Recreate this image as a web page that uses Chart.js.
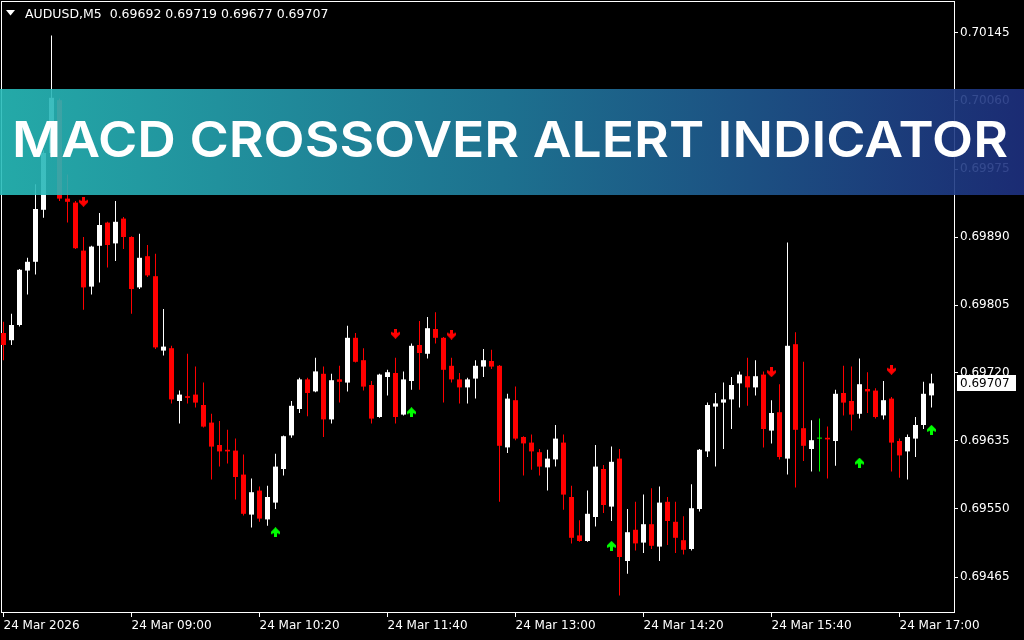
<!DOCTYPE html>
<html>
<head>
<meta charset="utf-8">
<script src="https://cdn.jsdelivr.net/npm/chart.js@4.4.1/dist/chart.umd.min.js"></script>
<style>
  html, body { margin: 0; padding: 0; background: #000; }
  #wrap { width: 1024px; height: 640px; }
</style>
</head>
<body>
<div id="wrap"><canvas id="chart" width="1024" height="640"></canvas></div>
<script>
// AUDUSD M5, 24 Mar 2026 07:40 .. 17:20 (one bar every 5 minutes)
const symbol = "AUDUSD,M5";

const opens = [
  0.69770, 0.69761, 0.69780, 0.69848, 0.69859, 0.69924, 0.69995, 0.70061, 0.69938, 0.69933,
  0.69873, 0.69828, 0.69879, 0.69908, 0.69882, 0.69913, 0.69890, 0.69827, 0.69866, 0.69841,
  0.69748, 0.69751, 0.69685, 0.69691, 0.69693, 0.69680, 0.69658, 0.69630, 0.69624, 0.69623,
  0.69593, 0.69543, 0.69573, 0.69537, 0.69558, 0.69600, 0.69642, 0.69675, 0.69712, 0.69697,
  0.69719, 0.69662, 0.69712, 0.69708, 0.69764, 0.69736, 0.69705, 0.69665, 0.69715, 0.69720,
  0.69668, 0.69710, 0.69755, 0.69744, 0.69775, 0.69764, 0.69729, 0.69712, 0.69702, 0.69713,
  0.69728, 0.69735, 0.69729, 0.69627, 0.69686, 0.69640, 0.69633, 0.69621, 0.69602, 0.69612,
  0.69633, 0.69565, 0.69517, 0.69510, 0.69540, 0.69600, 0.69553, 0.69613, 0.69485, 0.69524,
  0.69508, 0.69531, 0.69503, 0.69559, 0.69534, 0.69511, 0.69500, 0.69550, 0.69622, 0.69678,
  0.69683, 0.69687, 0.69707, 0.69716, 0.69702, 0.69718, 0.69648, 0.69671, 0.69613, 0.69756,
  0.69651, 0.69625, 0.69638, 0.69639, 0.69635, 0.69695, 0.69685, 0.69669, 0.69700, 0.69698,
  0.69667, 0.69688, 0.69635, 0.69622, 0.69638, 0.69655, 0.69692
];
const highs = [
  0.69784, 0.69794, 0.69850, 0.69864, 0.69956, 0.69998, 0.70142, 0.70063, 0.69968, 0.69935,
  0.69890, 0.69879, 0.69920, 0.69909, 0.69935, 0.69915, 0.69891, 0.69894, 0.69880, 0.69869,
  0.69800, 0.69754, 0.69698, 0.69744, 0.69728, 0.69708, 0.69669, 0.69660, 0.69649, 0.69638,
  0.69618, 0.69588, 0.69578, 0.69579, 0.69619, 0.69642, 0.69685, 0.69714, 0.69714, 0.69739,
  0.69728, 0.69719, 0.69729, 0.69779, 0.69770, 0.69751, 0.69710, 0.69719, 0.69724, 0.69739,
  0.69722, 0.69757, 0.69785, 0.69790, 0.69796, 0.69765, 0.69739, 0.69720, 0.69714, 0.69736,
  0.69750, 0.69749, 0.69730, 0.69694, 0.69703, 0.69641, 0.69643, 0.69625, 0.69624, 0.69655,
  0.69643, 0.69579, 0.69536, 0.69573, 0.69630, 0.69605, 0.69628, 0.69625, 0.69550, 0.69559,
  0.69568, 0.69576, 0.69578, 0.69565, 0.69559, 0.69541, 0.69581, 0.69625, 0.69683, 0.69695,
  0.69708, 0.69715, 0.69722, 0.69739, 0.69736, 0.69722, 0.69686, 0.69706, 0.69883, 0.69771,
  0.69734, 0.69661, 0.69663, 0.69653, 0.69699, 0.69729, 0.69728, 0.69738, 0.69721, 0.69701,
  0.69710, 0.69690, 0.69638, 0.69643, 0.69665, 0.69709, 0.69719
];
const lows = [
  0.69736, 0.69755, 0.69778, 0.69818, 0.69843, 0.69914, 0.69989, 0.69935, 0.69908, 0.69875,
  0.69799, 0.69818, 0.69833, 0.69852, 0.69860, 0.69875, 0.69794, 0.69825, 0.69840, 0.69750,
  0.69742, 0.69682, 0.69657, 0.69682, 0.69677, 0.69652, 0.69587, 0.69603, 0.69607, 0.69562,
  0.69542, 0.69527, 0.69534, 0.69529, 0.69550, 0.69592, 0.69639, 0.69670, 0.69666, 0.69696,
  0.69640, 0.69657, 0.69683, 0.69697, 0.69733, 0.69698, 0.69657, 0.69664, 0.69692, 0.69657,
  0.69667, 0.69699, 0.69699, 0.69738, 0.69757, 0.69683, 0.69708, 0.69682, 0.69682, 0.69688,
  0.69715, 0.69725, 0.69559, 0.69620, 0.69636, 0.69592, 0.69599, 0.69592, 0.69573, 0.69603,
  0.69549, 0.69507, 0.69509, 0.69509, 0.69528, 0.69545, 0.69535, 0.69442, 0.69469, 0.69498,
  0.69495, 0.69500, 0.69485, 0.69505, 0.69495, 0.69493, 0.69498, 0.69547, 0.69615, 0.69603,
  0.69625, 0.69650, 0.69677, 0.69679, 0.69692, 0.69627, 0.69632, 0.69612, 0.69593, 0.69577,
  0.69610, 0.69597, 0.69597, 0.69588, 0.69604, 0.69667, 0.69648, 0.69663, 0.69670, 0.69663,
  0.69662, 0.69597, 0.69589, 0.69587, 0.69615, 0.69650, 0.69677
];
const closes = [
  0.69755, 0.69780, 0.69849, 0.69859, 0.69925, 0.69995, 0.70064, 0.69938, 0.69934, 0.69876,
  0.69827, 0.69878, 0.69905, 0.69880, 0.69909, 0.69890, 0.69825, 0.69864, 0.69842, 0.69752,
  0.69753, 0.69687, 0.69693, 0.69689, 0.69683, 0.69653, 0.69628, 0.69622, 0.69622, 0.69590,
  0.69544, 0.69571, 0.69538, 0.69565, 0.69603, 0.69641, 0.69679, 0.69712, 0.69695, 0.69722,
  0.69662, 0.69711, 0.69709, 0.69764, 0.69734, 0.69703, 0.69663, 0.69718, 0.69721, 0.69665,
  0.69712, 0.69754, 0.69745, 0.69776, 0.69764, 0.69724, 0.69712, 0.69702, 0.69712, 0.69729,
  0.69736, 0.69728, 0.69629, 0.69688, 0.69638, 0.69632, 0.69622, 0.69603, 0.69613, 0.69638,
  0.69568, 0.69514, 0.69510, 0.69544, 0.69603, 0.69555, 0.69609, 0.69490, 0.69521, 0.69507,
  0.69531, 0.69504, 0.69558, 0.69535, 0.69514, 0.69499, 0.69551, 0.69624, 0.69680, 0.69682,
  0.69687, 0.69705, 0.69718, 0.69702, 0.69716, 0.69650, 0.69670, 0.69615, 0.69754, 0.69649,
  0.69629, 0.69636, 0.69638, 0.69637, 0.69694, 0.69683, 0.69668, 0.69706, 0.69697, 0.69665,
  0.69686, 0.69633, 0.69617, 0.69640, 0.69655, 0.69694, 0.69707
];

// time axis: bar index -> label
const timeTickBars = [0, 16, 32, 48, 64, 80, 96, 112];
const timeTickLabels = ["24 Mar 2026", "24 Mar 09:00", "24 Mar 10:20", "24 Mar 11:40",
                        "24 Mar 13:00", "24 Mar 14:20", "24 Mar 15:40", "24 Mar 17:00"];
const priceTicks = [0.70145, 0.70060, 0.69975, 0.69890, 0.69805, 0.69720, 0.69635, 0.69550, 0.69465];

// MACD crossover signals (bar index, arrow level)
const sellBars = [10, 49, 56, 96, 111];
const sellLevels = [0.69934, 0.69769, 0.69768, 0.69721, 0.69724];
const buyBars = [34, 51, 76, 107, 116];
const buyLevels = [0.69521, 0.69671, 0.69504, 0.69608, 0.69649];

const bannerText = "MACD CROSSOVER ALERT INDICATOR";

const BULL = "#ffffff", BEAR = "#ff0000", DOJI = "#00ff00";
const candleColors = opens.map((o, i) => closes[i] > o ? BULL : (closes[i] < o ? BEAR : DOJI));

function makeArrow(color, up) {
  const c = document.createElement("canvas");
  c.width = 9; c.height = 10;
  const g = c.getContext("2d");
  g.fillStyle = color;
  const pts = [[3, 0], [6, 0], [6, 4], [9, 3], [9, 5.5], [4.5, 10], [0, 5.5], [0, 3], [3, 4]];
  g.beginPath();
  pts.forEach(([x, y], j) => {
    const yy = up ? 10 - y : y;
    if (j === 0) g.moveTo(x, yy); else g.lineTo(x, yy);
  });
  g.closePath();
  g.fill();
  return c;
}
const arrowDown = makeArrow("#ff0000", false);
const arrowUp = makeArrow("#00ff00", true);

const FONT = "DejaVu Sans";

// no automatic label overflow padding: the plot frame sits at the canvas edge like MT4
function noPad(s) {
  s.paddingLeft = 0; s.paddingRight = 0; s.paddingTop = 0; s.paddingBottom = 0;
}

const overlayPlugin = {
  id: "mt4overlay",
  beforeDatasetsDraw(chart) {
    const { ctx, chartArea: a } = chart;
    ctx.save();
    ctx.strokeStyle = "#ffffff";
    ctx.lineWidth = 1;
    ctx.strokeRect(a.left + 0.5, a.top + 0.5, a.right - a.left, a.bottom - a.top);
    ctx.restore();
  },
  afterDraw(chart) {
    const { ctx } = chart;
    const y = chart.scales.y;
    const last = closes.length - 1;
    ctx.save();

    // header: symbol and last bar OHLC
    ctx.fillStyle = "#ffffff";
    ctx.beginPath();
    ctx.moveTo(6, 10); ctx.lineTo(15, 10); ctx.lineTo(10.5, 15.5); ctx.closePath();
    ctx.fill();
    ctx.font = "12.5px '" + FONT + "'";
    ctx.textBaseline = "middle";
    ctx.textAlign = "left";
    const head = symbol + "  " + [opens[last], highs[last], lows[last], closes[last]].map(v => v.toFixed(5)).join(" ");
    ctx.fillText(head, 25, 15);

    // current price box
    ctx.font = "12px '" + FONT + "'";
    const py = Math.round(y.getPixelForValue(closes[last]));
    ctx.fillStyle = "#ffffff";
    ctx.fillRect(957, py - 8, 59, 16);
    ctx.fillStyle = "#000000";
    ctx.fillText(closes[last].toFixed(5), 960, py + 0.5);

    // banner
    const top = 89, h = 106;
    const grad = ctx.createLinearGradient(0, 0, chart.width, 0);
    grad.addColorStop(0, "rgba(40,188,186,0.9)");
    grad.addColorStop(0.5, "rgba(32,124,158,0.9)");
    grad.addColorStop(1, "rgba(30,48,128,0.9)");
    ctx.fillStyle = grad;
    ctx.fillRect(0, top, chart.width, h);

    ctx.font = "600 50px Inter, 'Open Sans', sans-serif";
    ctx.textBaseline = "alphabetic";
    const w = ctx.measureText(bannerText).width;
    const target = 996;
    ctx.translate(12, 157);
    ctx.scale(target / w, 1);
    ctx.fillStyle = "#ffffff";
    ctx.fillText(bannerText, 0, 0);
    ctx.restore();
  }
};

const ctx = document.getElementById("chart").getContext("2d");
new Chart(ctx, {
  type: "bar",
  data: {
    datasets: [
      {
        label: "wicks",
        data: lows.map((l, i) => ({ x: i, y: [l, highs[i]] })),
        backgroundColor: candleColors,
        barThickness: 1,
        grouped: false,
        inflateAmount: 0,
        order: 3
      },
      {
        label: "bodies",
        data: opens.map((o, i) => ({ x: i, y: [o, closes[i]] })),
        backgroundColor: candleColors,
        barThickness: 5,
        minBarLength: 1,
        grouped: false,
        inflateAmount: 0,
        order: 2
      },
      {
        type: "line",
        label: "sell",
        data: sellBars.map((b, i) => ({ x: b, y: sellLevels[i] })),
        showLine: false,
        pointStyle: arrowDown,
        pointRadius: 5,
        order: 1
      },
      {
        type: "line",
        label: "buy",
        data: buyBars.map((b, i) => ({ x: b, y: buyLevels[i] })),
        showLine: false,
        pointStyle: arrowUp,
        pointRadius: 5,
        order: 1
      }
    ]
  },
  options: {
    responsive: false,
    devicePixelRatio: 1,
    animation: false,
    events: [],
    layout: { autoPadding: false, padding: { left: 1, top: 1, right: 0, bottom: 0 } },
    plugins: { legend: { display: false }, tooltip: { enabled: false } },
    scales: {
      x: {
        type: "linear",
        position: "bottom",
        min: -0.3125,
        max: 118.8125,
        offset: false,
        bounds: "data",
        afterBuildTicks: s => { s.ticks = timeTickBars.map(v => ({ value: v })); },
        afterFit: s => { s.height = 28; noPad(s); },
        ticks: {
          color: "#ffffff",
          align: "start",
          maxRotation: 0,
          autoSkip: false,
          padding: 2,
          font: { family: FONT, size: 12 },
          callback: v => timeTickLabels[timeTickBars.indexOf(v)]
        },
        grid: { drawOnChartArea: false, drawTicks: true, tickLength: 5, color: "#ffffff", offset: false },
        border: { display: false }
      },
      y: {
        type: "linear",
        position: "right",
        min: 0.6942125,
        max: 0.70185,
        beginAtZero: false,
        bounds: "data",
        afterBuildTicks: s => { s.ticks = priceTicks.map(v => ({ value: v })); },
        afterFit: s => { s.width = 70; noPad(s); },
        ticks: {
          color: "#ffffff",
          padding: 2,
          autoSkip: false,
          font: { family: FONT, size: 12 },
          callback: v => Number(v).toFixed(5)
        },
        grid: { drawOnChartArea: false, drawTicks: true, tickLength: 4, color: "#ffffff" },
        border: { display: false }
      }
    }
  },
  plugins: [overlayPlugin]
});
</script>
</body>
</html>
